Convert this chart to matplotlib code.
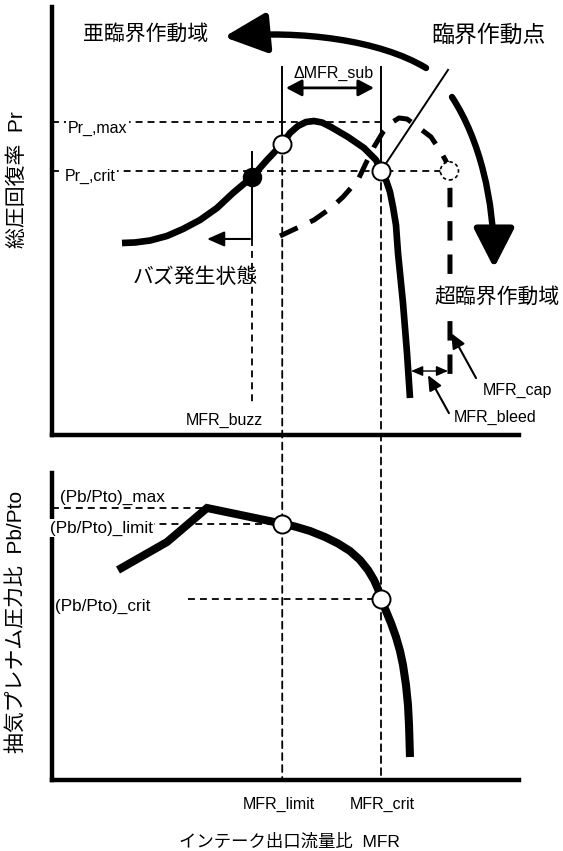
import matplotlib
matplotlib.use("Agg")
import matplotlib.pyplot as plt
from matplotlib.patches import FancyArrowPatch, ConnectionPatch
from matplotlib.path import Path

plt.rcParams["font.family"] = ["Liberation Sans", "Noto Sans CJK JP", "DejaVu Sans"]
plt.rcParams["lines.scale_dashes"] = False

# ---------------- characteristic flow ratios (shared MFR axis, 0-100) ----------------
MFR_BUZZ = 42.8
MFR_LIMIT = 49.3
MFR_CRIT = 70.45
MFR_CAP = 85.1
MFR_SUB_LEFT, MFR_SUB_RIGHT = 50.1, 68.95
MFR_BLEED_LEFT, MFR_BLEED_RIGHT = 76.9, 84.8

# ---------------- upper panel: total pressure recovery Pr ----------------
PR_MAX = 73.1
PR_CRIT = 61.7
PR_LIMIT_PT = 68.0
PR_BUZZ_PT = 60.3

pr_mfr = [14.99, 17.77, 20.99, 24.63, 28.05, 31.69, 35.33, 38.76, 42.83, 46.04,
          49.3, 50.96, 52.68, 54.39, 56.10, 57.82, 59.74, 63.38, 66.81, 69.38,
          70.45, 71.52, 72.38, 73.02, 73.66, 74.09, 75.16, 76.02, 76.66]
pr_val = [44.86, 44.98, 45.44, 46.50, 48.13, 50.23, 53.04, 56.54, 60.28, 64.25,
          68.0, 70.56, 72.20, 73.13, 73.36, 73.01, 71.96, 69.63, 67.06, 64.25,
          61.7, 59.58, 56.78, 53.27, 49.07, 42.52, 30.84, 19.16, 8.64]

# characteristic with bleed (dashed)
prb_mfr = [48.82, 52.46, 56.10, 59.74, 62.31, 65.52, 67.24, 68.95, 70.88, 72.59,
           74.30, 76.02, 77.52, 81.16, 83.30, 84.58, 85.01, 85.22, 85.22]
prb_val = [46.50, 48.36, 50.23, 53.04, 55.61, 59.58, 63.55, 67.29, 70.79, 72.90,
           74.07, 73.83, 72.66, 69.63, 66.12, 63.55, 61.45, 57.24, 12.38]

# ---------------- lower panel: bleed plenum pressure ratio Pb/Pto ----------------
PB_MAX = 88.6
PB_LIMIT = 83.5
PB_CRIT = 58.96

pb_mfr = [14.13, 24.63, 33.19, 49.3, 52.03, 55.25, 58.46, 61.24, 63.81, 65.95,
          67.67, 68.95, 69.81, 70.45, 71.52, 72.59, 73.66, 74.52, 75.16, 75.80,
          76.23, 76.45, 76.66]
pb_val = [68.40, 77.52, 88.60, 83.5, 82.57, 81.11, 79.15, 77.04, 74.59, 71.66,
          68.40, 65.15, 62.21, 58.96, 55.05, 51.14, 46.58, 42.02, 37.46, 30.94,
          24.43, 17.92, 7.49]

CJK = ["Liberation Sans", "Noto Sans CJK JP", "DejaVu Sans"]
WHITE = dict(facecolor="white", edgecolor="none", pad=1.0)
THIN_DASH = (0, (5, 3.6))
THICK_DASH = (0, (14, 10))

fig = plt.figure(figsize=(5.63, 8.51), dpi=100)
ax = fig.add_axes([0.09236, 0.48884, 0.82948, 0.50294])
bx = fig.add_axes([0.09236, 0.08343, 0.82948, 0.36075])

for a in (ax, bx):
    a.set_xlim(0, 100)
    a.set_ylim(0, 100)
    a.set_xticks([])
    a.set_yticks([])
    a.patch.set_visible(False)
    for s in ("top", "right"):
        a.spines[s].set_visible(False)
    for s in ("left", "bottom"):
        a.spines[s].set_linewidth(3.2)
        a.spines[s].set_zorder(4)

# ================= upper panel =================
# reference levels
ax.plot([0, MFR_CRIT], [PR_MAX, PR_MAX], color="k", lw=1.3, ls=THIN_DASH, zorder=1)
ax.plot([0, MFR_CAP], [PR_CRIT, PR_CRIT], color="k", lw=1.3, ls=THIN_DASH, zorder=1)
ax.text(3.4, 71.7, "Pr_,max", fontsize=11.5, va="center", ha="left", bbox=WHITE, zorder=5)
ax.text(2.8, 60.3, "Pr_,crit", fontsize=11.5, va="center", ha="left", bbox=WHITE, zorder=5)

# buzz marker line
ax.plot([MFR_BUZZ, MFR_BUZZ], [66.1, 45.8], color="k", lw=1.4, zorder=2)
ax.plot([MFR_BUZZ, MFR_BUZZ], [45.8, 7.0], color="k", lw=1.3, ls=THIN_DASH, zorder=1)
ax.text(36.8, 3.5, "MFR_buzz", fontsize=11.5, ha="center", va="center")
ax.add_patch(FancyArrowPatch((42.4, 45.8), (33.2, 45.8),
                             arrowstyle="-|>,head_length=10.5,head_width=4.6",
                             mutation_scale=1, lw=1.5, color="k", shrinkA=0, shrinkB=0))
ax.text(30.7, 36.9, "バズ発生状態", fontsize=15, ha="center", va="center", family=CJK)

# delta MFR_sub bracket
ax.plot([MFR_LIMIT, MFR_LIMIT], [86.0, PR_LIMIT_PT], color="k", lw=1.4, zorder=2)
ax.plot([MFR_CRIT, MFR_CRIT], [86.0, PR_CRIT], color="k", lw=1.4, zorder=2)
ax.add_patch(FancyArrowPatch((MFR_SUB_LEFT, 81.1), (MFR_SUB_RIGHT, 81.1),
                             arrowstyle="<|-|>,head_length=9.5,head_width=5",
                             mutation_scale=1, lw=2.0, color="k", shrinkA=0, shrinkB=0))
ax.text(60.2, 84.4, "ΔMFR_sub", fontsize=11.5, ha="center", va="center")

# characteristics
ax.plot(prb_mfr, prb_val, color="k", lw=3.6, ls=THICK_DASH, zorder=3)
ax.plot(pr_mfr, pr_val, color="k", lw=4.8, solid_joinstyle="round",
        solid_capstyle="butt", zorder=3)

# critical-point pointer
ax.plot([84.8, MFR_CRIT], [85.3, PR_CRIT], color="k", lw=1.4, zorder=3)

# operating points
ax.plot([MFR_LIMIT, MFR_CRIT], [PR_LIMIT_PT, PR_CRIT], "o", ms=13, mfc="white",
        mec="k", mew=1.4, zorder=6)
ax.plot([MFR_BUZZ], [PR_BUZZ_PT], "o", ms=13, mfc="k", mec="k", zorder=6)
ax.scatter([MFR_CAP], [PR_CRIT], s=170, facecolor="white", edgecolor="k",
           linewidths=1.2, linestyle=(0, (2.5, 2)), zorder=6)

# bleed / capture markers
ax.add_patch(FancyArrowPatch((MFR_BLEED_LEFT, 14.95), (MFR_BLEED_RIGHT, 14.95),
                             arrowstyle="<|-|>,head_length=7,head_width=3",
                             mutation_scale=1, lw=1.0, color="k", shrinkA=0, shrinkB=0))
ax.add_patch(FancyArrowPatch((90.8, 13.3), (85.5, 23.8),
                             arrowstyle="-|>,head_length=9,head_width=4",
                             mutation_scale=1, lw=1.5, color="k", shrinkA=0, shrinkB=0))
ax.add_patch(FancyArrowPatch((85.0, 5.1), (80.5, 14.0),
                             arrowstyle="-|>,head_length=9,head_width=4",
                             mutation_scale=1, lw=1.5, color="k", shrinkA=0, shrinkB=0))
ax.text(92.3, 10.5, "MFR_cap", fontsize=11.5, ha="left", va="center", clip_on=False)
ax.text(86.1, 4.0, "MFR_bleed", fontsize=11.5, ha="left", va="center", clip_on=False)

# operating-region arrows
sub_arrow = Path([(80.09, 85.75), (70.24, 92.29), (53.10, 94.63), (36.83, 92.99)],
                 [Path.MOVETO, Path.CURVE4, Path.CURVE4, Path.CURVE4])
ax.add_patch(FancyArrowPatch(path=sub_arrow, arrowstyle="-|>,head_length=26,head_width=12.3",
                             mutation_scale=1, lw=4.6, color="k", clip_on=False))
sup_arrow = Path([(85.65, 78.97), (91.65, 68.93), (94.65, 54.91), (94.65, 39.02)],
                 [Path.MOVETO, Path.CURVE4, Path.CURVE4, Path.CURVE4])
ax.add_patch(FancyArrowPatch(path=sup_arrow, arrowstyle="-|>,head_length=24,head_width=12.3",
                             mutation_scale=1, lw=4.6, color="k", clip_on=False))

ax.text(20.1, 93.7, "亜臨界作動域", fontsize=15, ha="center", va="center", family=CJK)
ax.text(93.5, 93.5, "臨界作動点", fontsize=16.5, ha="center", va="center", family=CJK,
        clip_on=False)
ax.text(95.4, 32.2, "超臨界作動域", fontsize=15, ha="center", va="center", family=CJK,
        bbox=WHITE, zorder=5, clip_on=False)

ax.text(-7.5, 59.6, "総圧回復率  Pr", fontsize=15, rotation=90, ha="center",
        va="center", family=CJK)

# ================= lower panel =================
bx.plot([0, 33.19], [PB_MAX, PB_MAX], color="k", lw=1.3, ls=THIN_DASH, zorder=1)
bx.plot([0, MFR_LIMIT], [PB_LIMIT, PB_LIMIT], color="k", lw=1.3, ls=THIN_DASH, zorder=1)
bx.plot([29.1, MFR_CRIT], [PB_CRIT, PB_CRIT], color="k", lw=1.3, ls=THIN_DASH, zorder=1)

bx.plot(pb_mfr, pb_val, color="k", lw=5.8, solid_joinstyle="miter",
        solid_capstyle="butt", zorder=3)
bx.plot([MFR_LIMIT, MFR_CRIT], [PB_LIMIT, PB_CRIT], "o", ms=13, mfc="white",
        mec="k", mew=1.4, zorder=6)

bx.text(1.7, 91.9, "(Pb/Pto)_max", fontsize=12.3, ha="left", va="center", zorder=7)
bx.text(-0.4, 82.1, "(Pb/Pto)_limit", fontsize=12.3, ha="left", va="center",
        bbox=WHITE, zorder=7, clip_on=False)
bx.text(0.7, 56.7, "(Pb/Pto)_crit", fontsize=12.3, ha="left", va="center", zorder=7)

bx.text(48.6, -7.8, "MFR_limit", fontsize=11.5, ha="center", va="center", clip_on=False)
bx.text(70.7, -7.8, "MFR_crit", fontsize=11.5, ha="center", va="center", clip_on=False)
bx.text(50.8, -20.2, "インテーク出口流量比  MFR", fontsize=12.5, ha="center",
        va="center", family=CJK, clip_on=False)
bx.text(-7.7, 51.5, "抽気プレナム圧力比  Pb/Pto", fontsize=15, rotation=90,
        ha="center", va="center", family=CJK, clip_on=False)

# MFR_limit / MFR_crit guide lines running through both panels
for mfr, y_top in ((MFR_LIMIT, PR_LIMIT_PT), (MFR_CRIT, PR_CRIT)):
    guide = ConnectionPatch(xyA=(mfr, y_top), coordsA=ax.transData,
                            xyB=(mfr, 0), coordsB=bx.transData,
                            color="k", lw=1.3, ls=THIN_DASH, zorder=-1)
    fig.add_artist(guide)

fig.savefig("out.png", dpi=100, facecolor="white")
